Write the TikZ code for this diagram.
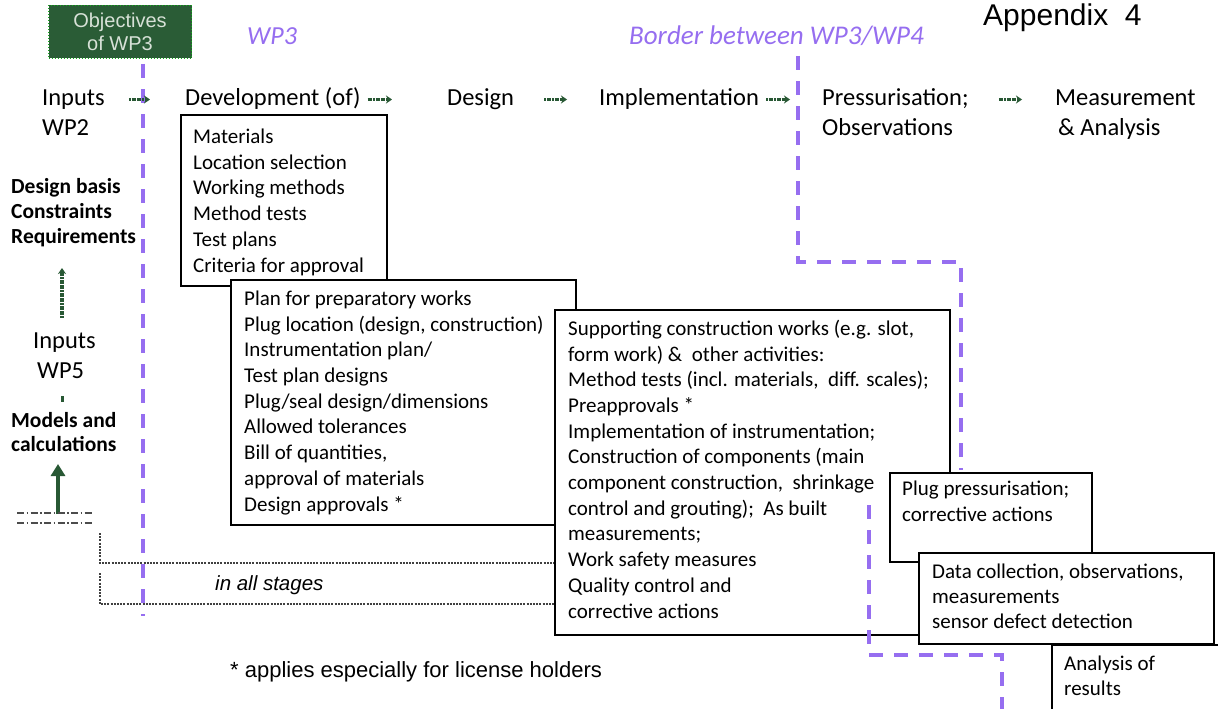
\documentclass[tikz,border=0pt]{standalone}
\usepackage{fontspec}
\setmainfont{Carlito}
\newfontfamily\arialf{Liberation Sans}
\usetikzlibrary{arrows.meta,calc}
\definecolor{purp}{RGB}{150,110,240}
\definecolor{dgreen}{RGB}{40,88,52}
\definecolor{objfill}{RGB}{42,92,54}
\definecolor{objtext}{RGB}{215,225,215}
\newcommand\fsz[2]{\fontsize{#1}{#2}\selectfont}
\tikzset{
  hdr/.style={font=\fsz{24.5}{30}, anchor=base west, inner sep=0pt, text height=16pt, text depth=5pt},
  lbold/.style={font=\bfseries\fsz{21.5}{25}, anchor=base west, inner sep=0pt},
  btxt/.style={font=\fsz{21}{25.7}, align=left, anchor=base west, inner sep=0pt},
  boxA/.style={draw, line width=2.8pt, fill=white, anchor=north west, inner sep=0pt, outer sep=0pt},
  boxB/.style={draw, line width=1.3pt, fill=white, anchor=north west, inner sep=0pt, outer sep=0pt},
  purpline/.style={draw=purp, line width=3.5pt, dash pattern=on 14pt off 11pt},
  garrow/.style={draw=dgreen, line width=3.2pt, dash pattern=on 2pt off 0.6pt, -{Stealth[length=6pt,width=8pt]}},
  thickarrow/.style={draw=dgreen, line width=4.5pt, -{Triangle[length=12pt,width=14pt]}},
  dashdotl/.style={draw=black!70, line width=1.1pt, dash pattern=on 7pt off 2.5pt on 1.5pt off 2.5pt},
  grayd/.style={draw=black!75, line width=1.1pt, dash pattern=on 2pt off 1.2pt},
}
\begin{document}
\begin{tikzpicture}[x=1pt,y=-1pt]
\useasboundingbox[fill=white] (0,0) rectangle (1218,709);

% titles
\node[fill=objfill, draw=green!50!objfill, dotted, line width=1pt, minimum width=143pt, minimum height=53pt,
  anchor=north west, inner sep=0pt, text=objtext, font=\arialf\fsz{20}{23}, align=center] (obj) at (48,5) {Objectives\\of WP3};
\node[font=\itshape\fsz{26}{30}, text=purp, anchor=base west, inner sep=0pt] (wp3) at (247,45) {WP3};
\node[font=\itshape\fsz{27}{30}, text=purp, anchor=base west, inner sep=0pt] (border) at (629,45) {Border between WP3/WP4};
\node[font=\arialf\fsz{30}{32}, anchor=base west, inner sep=0pt] (app) at (983,26) {Appendix\ \ 4};

% header
\node[hdr] (inp) at (42,105) {Inputs};
\node[hdr] (wp2) at (42,135) {WP2};
\node[hdr] (dev) at (185,105) {Development (of)};
\node[hdr] (des) at (447,105) {Design};
\node[hdr] (imp) at (599,105) {Implementation};
\node[hdr] (pre) at (822,105) {Pressurisation;};
\node[hdr] (obs) at (822,135) {Observations};
\node[hdr] (mea) at (1055,105) {Measurement};
\node[hdr] (ana) at (1058,135) {\& Analysis};

% left column
\node[lbold] (db) at (11,193) {Design basis};
\node[lbold] (co) at (11,218) {Constraints};
\node[lbold] (rq) at (11,243) {Requirements};
\node[hdr] (in5) at (33,348) {Inputs};
\node[hdr] (wp5) at (37,378) {WP5};
\node[lbold] (mo) at (11,427) {Models and};
\node[lbold] (ca) at (11,451) {calculations};

\coordinate (ga1) at (62,318);
\coordinate (ga2) at (62,268);
\coordinate (gd1) at (62,396);
\coordinate (gd2) at (62,402);
\coordinate (gt1) at (58,514);
\coordinate (gt2) at (58,464);
\draw[garrow] (ga1) -- (ga2);
\draw[draw=dgreen, line width=3pt] (gd1) -- (gd2);
\draw[thickarrow] (gt1) -- (gt2);
\draw[dashdotl] (17,513) -- (92,513);
\draw[dashdotl] (17,523) -- (92,523);

% dotted brackets
\draw[grayd] (100,533) -- (100,563) -- (556,563);
\draw[grayd] (100,573) -- (100,604) -- (556,604);
\node[font=\arialf\itshape\fsz{20.5}{22}, anchor=base west, inner sep=0pt] (stages) at (215,590) {in all stages};

% purple border WP3 left
\draw[purpline] (143,64) -- (143,616);

% header arrows
\draw[garrow, shorten <=24pt, shorten >=35pt] (inp.east) -- (dev.west);
\draw[garrow, shorten <=7pt, shorten >=55pt] (dev.east) -- (des.west);
\draw[garrow, shorten <=30pt, shorten >=32pt] (des.east) -- (imp.west);
\draw[garrow, shorten <=7pt, shorten >=32pt] (imp.east) -- (pre.west);
\draw[garrow, shorten <=30pt, shorten >=33pt] (pre.east) -- (mea.west);

% purple border WP3/WP4 (upper part)
\draw[purpline] (798,56) -- (798,262) -- (961,262) -- (961,470);

% boxes (text nodes anchored at the baseline of their last line)
\node[boxA, minimum width=206pt, minimum height=171pt] (b1) at (181,115) {};
\node[btxt] (t1) at (193,272) {Materials\\Location selection\\Working methods\\Method tests\\Test plans\\Criteria for approval};
\node[boxA, minimum width=345pt, minimum height=245pt] (b2) at (231,280) {};
\node[btxt] (t2) at (244,511) {Plan for preparatory works\\Plug location (design, construction)\\Instrumentation plan/\\Test plan designs\\Plug/seal design/dimensions\\Allowed tolerances\\Bill of quantities,\\approval of materials\\Design approvals *};
\node[boxB, minimum width=395pt, minimum height=325pt] (b3) at (555,310) {};
\node[btxt] (t3) at (568,618) {Supporting construction works (e.g. slot,\\form work) \&\ \ other activities:\\Method tests (incl. materials,\ \ diff. scales);\\Preapprovals *\\Implementation of instrumentation;\\Construction of components (main\\component construction,\ \ shrinkage\\control and grouting);\ \ As built\\measurements;\\Work safety measures\\Quality control and\\corrective actions};

% purple border (lower part)
\draw[purpline] (869,505) -- (869,655) -- (1002,655) -- (1002,712);

\node[boxB, minimum width=202pt, minimum height=89pt] (b4) at (890,473) {};
\node[btxt, font=\fsz{21}{26}] (t4) at (902,521) {Plug pressurisation;\\corrective actions};
\node[boxB, minimum width=295pt, minimum height=91pt] (b5) at (919,553) {};
\node[btxt, font=\fsz{21}{25}] (t5) at (932,628) {Data collection, observations,\\measurements\\sensor defect detection};
\node[boxB, minimum width=180pt, minimum height=80pt] (b6) at (1052,645) {};
\node[btxt, font=\fsz{21}{25}] (t6) at (1064,695) {Analysis of\\results};

% footnote
\node[font=\arialf\fsz{22}{24}, anchor=base west, inner sep=0pt] (fn) at (230,677) {* applies especially for license holders};
\end{tikzpicture}
\end{document}
